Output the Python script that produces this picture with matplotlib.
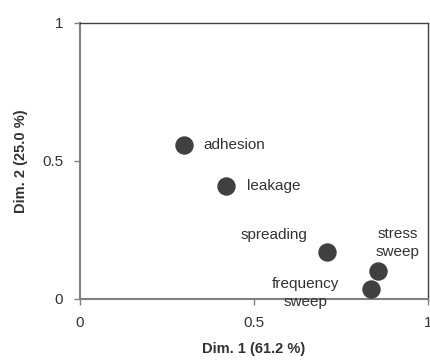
import matplotlib
matplotlib.use("Agg")
import matplotlib.pyplot as plt

plt.rcParams["font.family"] = ["Liberation Sans", "DejaVu Sans"]

# factor map coordinates
names = ["adhesion", "leakage", "spreading", "stress\nsweep", "frequency\nsweep"]
dim1 = [0.30, 0.42, 0.71, 0.856, 0.836]
dim2 = [0.558, 0.409, 0.172, 0.102, 0.036]

# label offsets in points and alignment
offsets = [(14, 0), (15, 0), (-14, 12), (14, 20), (-47, -3)]
aligns = ["left", "left", "right", "center", "center"]

fig = plt.figure(figsize=(4.3, 3.6), dpi=100)
ax = fig.add_axes([80 / 430, 61 / 360, 348 / 430, 276 / 360])

ax.scatter(dim1, dim2, s=150, color="#404040", zorder=3, clip_on=False)

for n, x, y, off, ha in zip(names, dim1, dim2, offsets, aligns):
    ax.annotate(n, (x, y), xytext=off, textcoords="offset points",
                ha=ha, va="center", fontsize=11, color="#333333",
                linespacing=1.35, zorder=4)

ax.set_xlim(0, 1)
ax.set_ylim(0, 1)
ax.set_xticks([0, 0.5, 1])
ax.set_xticklabels(["0", "0.5", "1"])
ax.set_yticks([0, 0.5, 1])
ax.set_yticklabels(["0", "0.5", "1"])

for s in ["left", "bottom"]:
    ax.spines[s].set_color("#808080")
    ax.spines[s].set_linewidth(1.5)
for s in ["top", "right"]:
    ax.spines[s].set_color("#404040")
    ax.spines[s].set_linewidth(1.0)

ax.tick_params(direction="out", length=4, width=1, color="#808080",
               labelsize=11, labelcolor="#333333")
ax.tick_params(axis="y", pad=8)
ax.tick_params(axis="x", pad=8)

ax.set_xlabel("Dim. 1 (61.2 %)", fontsize=10.5, fontweight="bold",
              color="#333333", labelpad=9)
ax.set_ylabel("Dim. 2 (25.0 %)", fontsize=10.5, fontweight="bold",
              color="#333333", labelpad=10)

fig.savefig("out.png", dpi=100, facecolor="w")
